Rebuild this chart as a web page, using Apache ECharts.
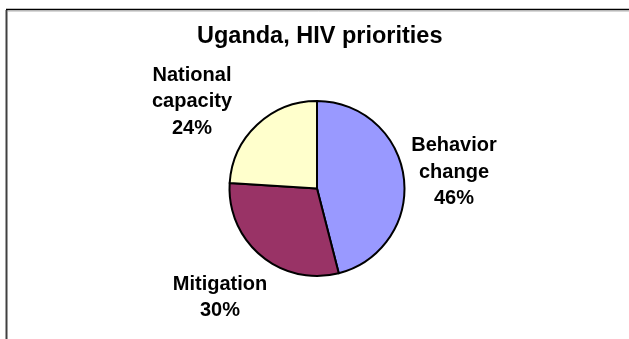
<!DOCTYPE html>
<html>
<head>
<meta charset="utf-8">
<script src="https://cdn.jsdelivr.net/npm/echarts@6/dist/echarts.min.js"></script>
<style>
  html, body { margin: 0; padding: 0; background: #fff; }
  #main { width: 629px; height: 339px; }
</style>
</head>
<body>
<div id="main"></div>
<script>
var categories = ['Behavior change', 'Mitigation', 'National capacity'];
var values = [46, 30, 24];
var colors = ['#9999FF', '#993366', '#FFFFCC'];

// where Excel put each label (centre of the text block)
var labelSpots = [[454, 172], [220, 297.5], [192, 101.5]];

var chartDom = document.getElementById('main');
var myChart = echarts.init(chartDom);

var data = categories.map(function (name, i) {
    return { name: name, value: values[i], itemStyle: { color: colors[i] } };
});

var option = {
    backgroundColor: '#fff',
    animation: false,
    title: {
        text: 'Uganda, HIV priorities',
        left: 197,
        top: 25,
        padding: 0,
        textStyle: {
            fontFamily: 'Liberation Sans, Arial',
            fontWeight: 'bold',
            fontSize: 23.5,
            color: '#000'
        }
    },
    graphic: [
        { type: 'line', shape: { x1: 6, y1: 9.5, x2: 629, y2: 9.5 }, style: { stroke: '#000', lineWidth: 1.5 } },
        { type: 'line', shape: { x1: 8, y1: 11, x2: 629, y2: 11 }, style: { stroke: '#b0b0b0', lineWidth: 1 } },
        { type: 'line', shape: { x1: 6.5, y1: 10, x2: 6.5, y2: 339 }, style: { stroke: '#404040', lineWidth: 2 } }
    ],
    series: [{
        type: 'pie',
        center: [317, 188.5],
        radius: [0, 87.5],
        startAngle: 90,
        clockwise: true,
        avoidLabelOverlap: false,
        data: data,
        itemStyle: {
            borderColor: '#000',
            borderWidth: 2
        },
        label: {
            show: true,
            position: 'outside',
            formatter: function (p) {
                return p.name.replace(' ', '\n') + '\n' + p.value + '%';
            },
            fontFamily: 'Liberation Sans, Arial',
            fontWeight: 'bold',
            fontSize: 20,
            lineHeight: 26.5,
            color: '#000'
        },
        labelLine: { show: false },
        labelLayout: function (params) {
            var spot = labelSpots[params.dataIndex];
            return { x: spot[0], y: spot[1], align: 'center', verticalAlign: 'middle' };
        },
        emphasis: { disabled: true }
    }]
};

option && myChart.setOption(option);
</script>
</body>
</html>
